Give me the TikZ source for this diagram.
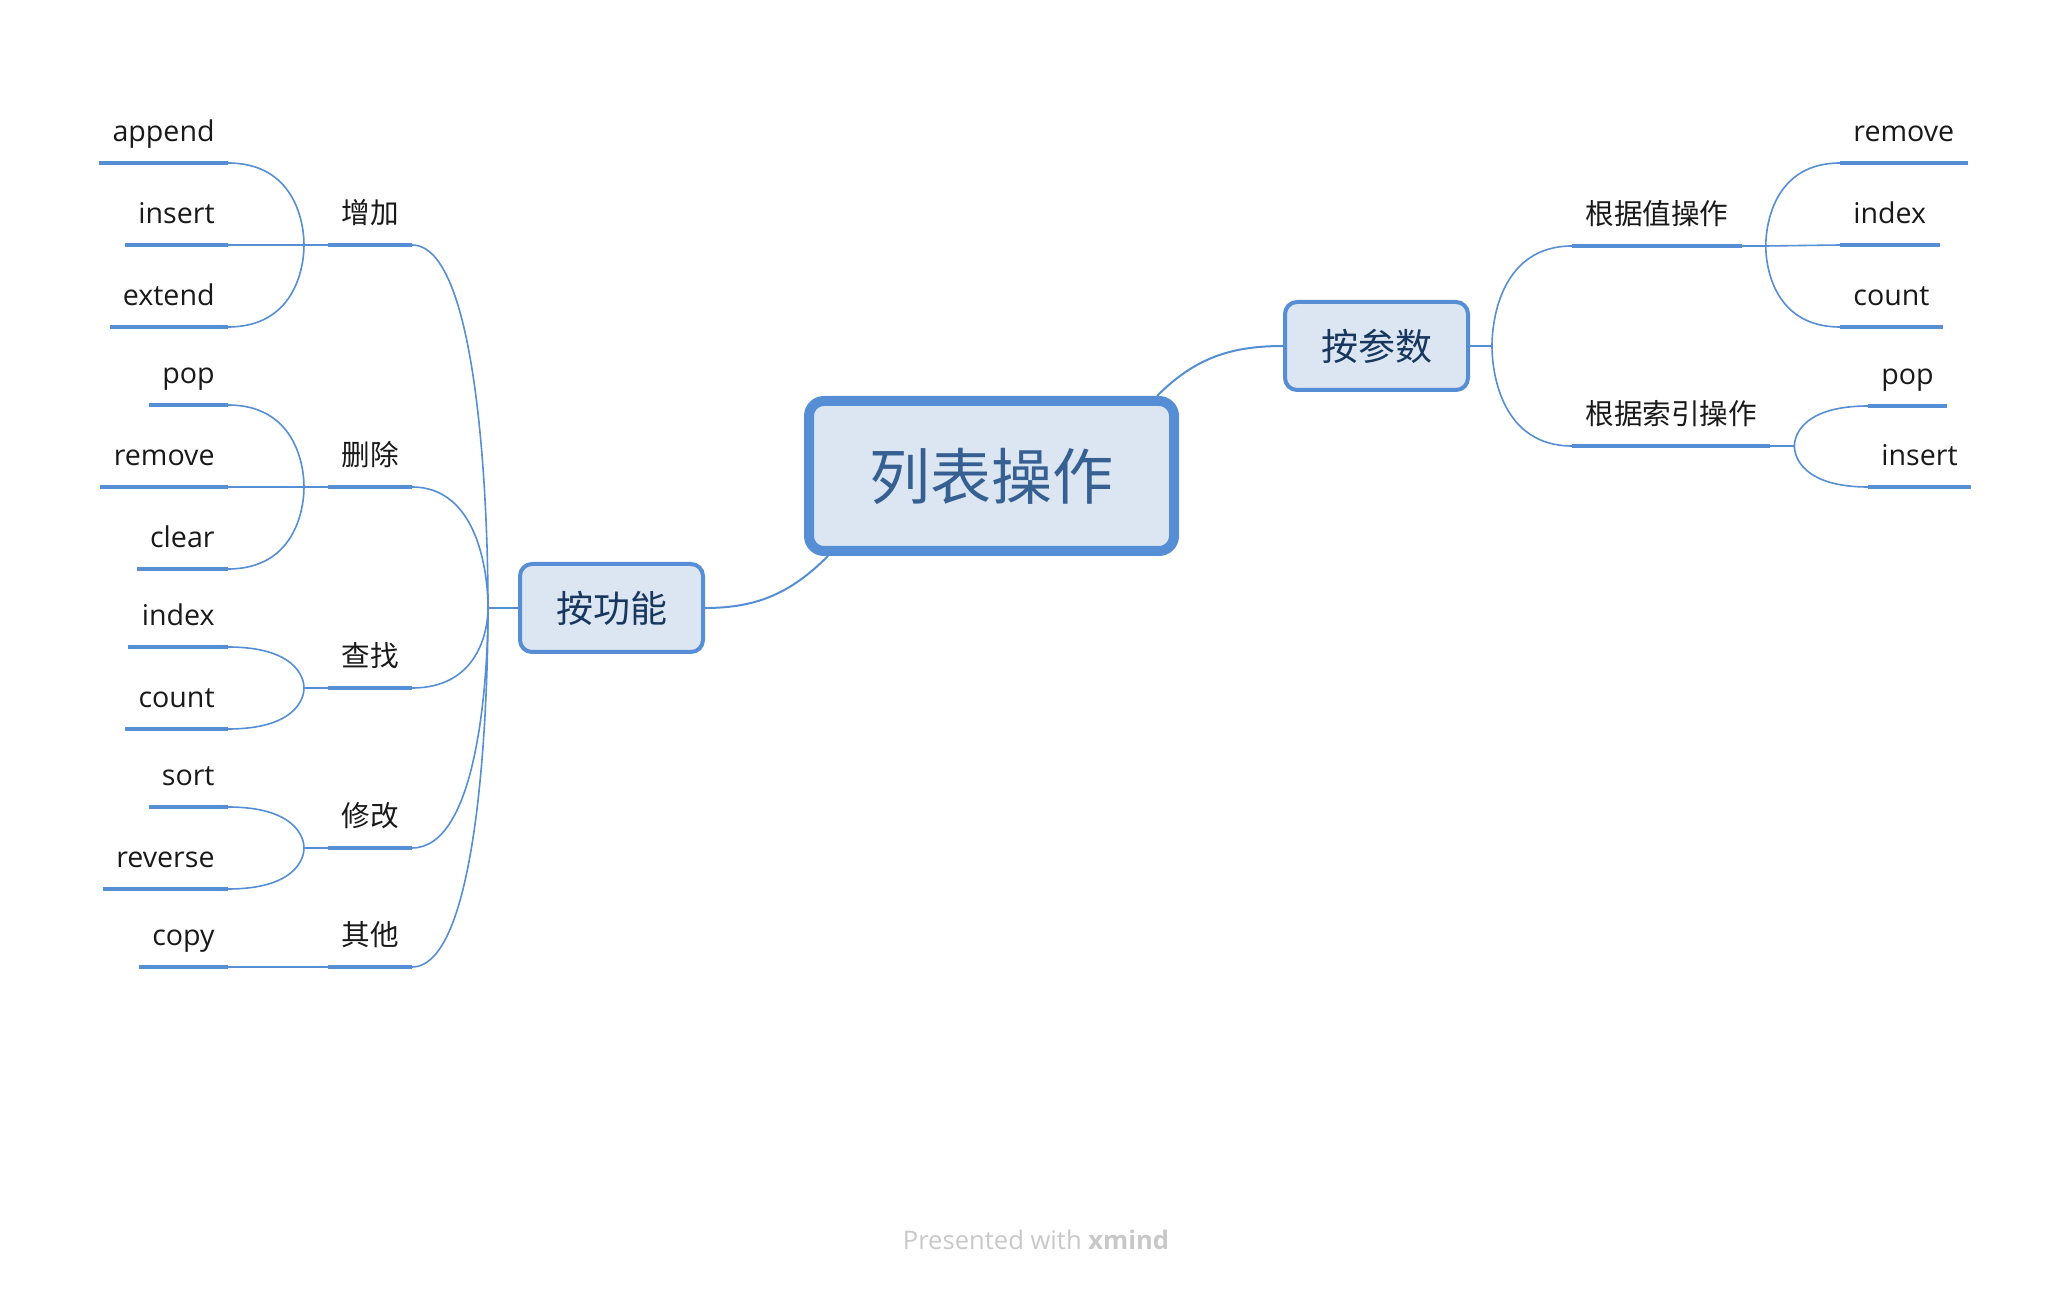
\documentclass[tikz,border=0pt]{standalone}
\usepackage{fontspec}
\setmainfont{Open Sans}
\newfontfamily\cjk{Noto Sans CJK SC}
\usetikzlibrary{
	positioning,calc,backgrounds
}
\definecolor{c1}{RGB}{85, 142, 213}
\definecolor{c2}{RGB}{220, 230, 242}
\definecolor{c3}{RGB}{54, 96, 146}
\definecolor{c4}{RGB}{23, 55, 94}
\definecolor{c5}{RGB}{200, 200, 200}
\tikzset{
	rootbox/.style={
		rectangle, minimum width=182.5pt, minimum height=75pt, rounded corners=7.5pt,
		line width=5pt, draw=c1, fill=c2, text=c3, font=\cjk\fontsize{30.5}{36}\selectfont
	},
	%
	mainbox/.style={
		rectangle, minimum width=91.5pt, minimum height=44pt, rounded corners=6pt,
		line width=2pt, draw=c1, fill=c2, text=c4, font=\cjk\fontsize{18.5}{22}\selectfont
	},
	%
	uline/.style={
		draw=c1, line width=2.4pt
	},
	%
	leaf/.style={
		inner xsep=6.5pt, inner ysep=0pt, text height=11pt, text depth=10.5pt,
		text=black!90, font=\fontsize{14.3}{17}\selectfont,
		append after command={(\tikzlastnode.south west) edge[uline] (\tikzlastnode.south east)}
	},
	%
	topic/.style={
		leaf, font=\cjk\fontsize{14.3}{17}\selectfont
	},
	%
	conn/.style={
		draw=c1, line width=0.8pt
	},
	%
	hubcurve/.style={
		to path={.. controls ($(\tikztostart)!0.3!(\tikztostart |- \tikztotarget)$)
			and ($(\tikztotarget)!0.86!(\tikztostart |- \tikztotarget)$) .. (\tikztotarget)}
	}
}

\begin{document}
\begin{tikzpicture}[x=0.5pt, y=0.5pt]
	\useasboundingbox (0,0) rectangle (2068,1292);
	\node(root)[rootbox] at (991.5,816) {列表操作};
	\node(func)[mainbox, left=49.5pt of root, yshift=-66pt]{按功能};
	\node(param)[mainbox, right=52pt of root, yshift=65pt]{按参数};
	% left side
	\node(add)[topic, anchor=south east] at (412,1047) {增加};
	\node(del)[topic, anchor=south east] at (412,805) {删除};
	\node(find)[topic, anchor=south east] at (412,604) {查找};
	\node(modify)[topic, anchor=south east] at (412,444) {修改};
	\node(other)[topic, anchor=south east] at (412,325) {其他};
	\node(append)[leaf, anchor=south east] at (228,1129) {append};
	\node(insert)[leaf, anchor=south east] at (228,1047) {insert};
	\node(extend)[leaf, anchor=south east] at (228,965) {extend};
	\node(pop)[leaf, anchor=south east] at (228,887) {pop};
	\node(remove)[leaf, anchor=south east] at (228,805) {remove};
	\node(clear)[leaf, anchor=south east] at (228,723) {clear};
	\node(index)[leaf, anchor=south east] at (228,645) {index};
	\node(count)[leaf, anchor=south east] at (228,563) {count};
	\node(sort)[leaf, anchor=south east] at (228,485) {sort};
	\node(reverse)[leaf, anchor=south east] at (228,403) {reverse};
	\node(copy)[leaf, anchor=south east] at (228,325) {copy};
	% right side
	\node(byval)[topic, anchor=south west] at (1572,1046) {根据值操作};
	\node(byidx)[topic, anchor=south west] at (1572,846) {根据索引操作};
	\node(rremove)[leaf, anchor=south west] at (1840,1129) {remove};
	\node(rindex)[leaf, anchor=south west] at (1840,1047) {index};
	\node(rcount)[leaf, anchor=south west] at (1840,965) {count};
	\node(rpop)[leaf, anchor=south west] at (1868,886) {pop};
	\node(rinsert)[leaf, anchor=south west] at (1868,805) {insert};
	\node(credit)[anchor=base, text=c5, font=\fontsize{12.8}{15}\selectfont] at (1036,43) {Presented with \textbf{xmind}};
	\coordinate(func-hub) at ($(func.west)+(-30,0)$);
	\coordinate(param-hub) at ($(param.east)+(22,0)$);
	\coordinate(add-hub) at ($(add.south west)+(-24,0)$);
	\coordinate(del-hub) at ($(del.south west)+(-24,0)$);
	\coordinate(find-hub) at ($(find.south west)+(-24,0)$);
	\coordinate(modify-hub) at ($(modify.south west)+(-24,0)$);
	\coordinate(byval-hub) at ($(byval.south east)+(24,0)$);
	\coordinate(byidx-hub) at ($(byidx.south east)+(24,0)$);
	\coordinate(root-sw) at ($(root.south west)+(24,0)$);
	\coordinate(root-ne) at ($(root.north east)+(-22,0)$);
	\begin{scope}[on background layer]
		\draw[conn, line width=1pt] (func.east) to[out=0, in=225] (root-sw);
		\draw[conn, line width=1pt] (param.west) to[out=180, in=45] (root-ne);
		\draw[conn] (func.west) -- (func-hub);
		\draw[conn] (func-hub) to[hubcurve] (add.south east);
		\draw[conn] (func-hub) to[hubcurve] (del.south east);
		\draw[conn] (func-hub) to[hubcurve] (find.south east);
		\draw[conn] (func-hub) to[hubcurve] (modify.south east);
		\draw[conn] (func-hub) to[hubcurve] (other.south east);
		\draw[conn] (add.south west) -- (add-hub);
		\draw[conn] (add-hub) to[hubcurve] (append.south east);
		\draw[conn] (add-hub) -- (insert.south east);
		\draw[conn] (add-hub) to[hubcurve] (extend.south east);
		\draw[conn] (del.south west) -- (del-hub);
		\draw[conn] (del-hub) to[hubcurve] (pop.south east);
		\draw[conn] (del-hub) -- (remove.south east);
		\draw[conn] (del-hub) to[hubcurve] (clear.south east);
		\draw[conn] (find.south west) -- (find-hub);
		\draw[conn] (find-hub) to[hubcurve] (index.south east);
		\draw[conn] (find-hub) to[hubcurve] (count.south east);
		\draw[conn] (modify.south west) -- (modify-hub);
		\draw[conn] (modify-hub) to[hubcurve] (sort.south east);
		\draw[conn] (modify-hub) to[hubcurve] (reverse.south east);
		\draw[conn] (other.south west) -- (copy.south east);
		\draw[conn] (param.east) -- (param-hub);
		\draw[conn] (param-hub) to[hubcurve] (byval.south west);
		\draw[conn] (param-hub) to[hubcurve] (byidx.south west);
		\draw[conn] (byval.south east) -- (byval-hub);
		\draw[conn] (byval-hub) to[hubcurve] (rremove.south west);
		\draw[conn] (byval-hub) -- (rindex.south west);
		\draw[conn] (byval-hub) to[hubcurve] (rcount.south west);
		\draw[conn] (byidx.south east) -- (byidx-hub);
		\draw[conn] (byidx-hub) to[hubcurve] (rpop.south west);
		\draw[conn] (byidx-hub) to[hubcurve] (rinsert.south west);
	\end{scope}
\end{tikzpicture}
\end{document}
